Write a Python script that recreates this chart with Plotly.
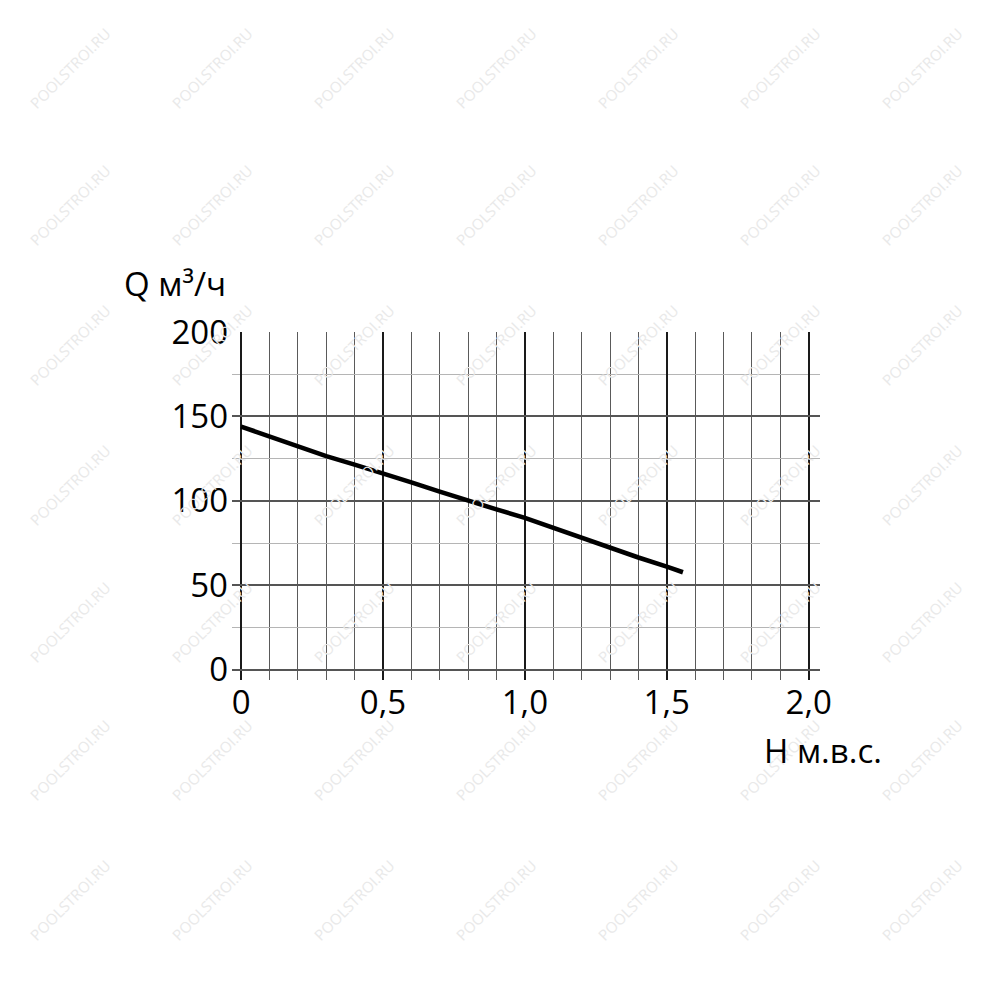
import plotly.graph_objects as go

# Data
H_values = [0.0, 0.1, 0.2, 0.3, 0.4, 0.5, 0.6, 0.7, 0.8, 0.9, 1.0, 1.1, 1.2, 1.3, 1.4, 1.5, 1.557]
Q_values = [144, 138, 132, 126.5, 121.5, 116.5, 111, 105.5, 100, 95, 90, 84, 77.9, 72.3, 66.5, 61.1, 57.8]

x_tickvals = [0, 0.5, 1.0, 1.5, 2.0]
x_ticktext = ["0", "0,5", "1,0", "1,5", "2,0"]
y_tickvals = [0, 50, 100, 150, 200]
y_ticktext = ["0", "50", "100", "150", "200"]

y_title = "Q м³/ч"
x_title = "H м.в.с."
watermark = "POOLSTROI.RU"

FONT = "Open Sans"
W, H = 1000, 1000
OFF = 8  # page body margin
ML, MR, MT, MB = 232 - OFF, 180 + OFF, 332 - OFF, 320 + OFF

fig = go.Figure()
fig.add_trace(go.Scatter(
    x=H_values, y=Q_values, mode="lines",
    line=dict(color="black", width=4.6),
    hoverinfo="skip", showlegend=False,
))

pw, ph = W - ML - MR, H - MT - MB


def px_to_paper(px, py):
    return (px - OFF - ML) / pw, (H - MB - (py - OFF)) / ph


# watermarks
annotations = []
for cx in [70, 212, 354, 496, 638, 780, 922]:
    for cy in [68, 205, 345, 485, 622, 760, 900]:
        xp, yp = px_to_paper(cx, cy)
        annotations.append(dict(
            x=xp, y=yp, xref="paper", yref="paper", xanchor="center", yanchor="middle",
            text=watermark, showarrow=False, textangle=-45,
            font=dict(family=FONT, size=15, color="#e9e9e9"),
        ))

xp, yp = px_to_paper(122, 283)
annotations.append(dict(
    x=xp, y=yp, xref="paper", yref="paper",
    xanchor="left", yanchor="middle", text=y_title, showarrow=False,
    font=dict(family=FONT, size=33, color="black"),
))
xp, yp = px_to_paper(884, 750)
annotations.append(dict(
    x=xp, y=yp, xref="paper", yref="paper",
    xanchor="right", yanchor="middle", text=x_title, showarrow=False,
    font=dict(family=FONT, size=33, color="black"),
))

fig.update_layout(
    width=W, height=H,
    margin=dict(l=ML, r=MR, t=MT, b=MB),
    paper_bgcolor="white", plot_bgcolor="white",
    annotations=annotations,
    font=dict(family=FONT, size=33, color="black"),
    xaxis=dict(
        range=[-0.032, 2.04], tickvals=x_tickvals, ticktext=x_ticktext,
        showgrid=True, gridcolor="#1a1a1a", gridwidth=2,
        zeroline=False, showline=False, ticks="",
        ticklabelstandoff=0,
        minor=dict(dtick=0.1, tick0=0, showgrid=True, gridcolor="#5a5a5a", gridwidth=1.2),
        fixedrange=True,
    ),
    yaxis=dict(
        range=[-6, 200], tickvals=y_tickvals, ticktext=y_ticktext,
        showgrid=True, gridcolor="#555555", gridwidth=2,
        zeroline=False, showline=False, ticks="",
        ticklabelstandoff=3,
        minor=dict(dtick=25, tick0=0, showgrid=True, gridcolor="#b5b5b5", gridwidth=1.2),
        fixedrange=True,
    ),
)

fig.write_html("out.html")
